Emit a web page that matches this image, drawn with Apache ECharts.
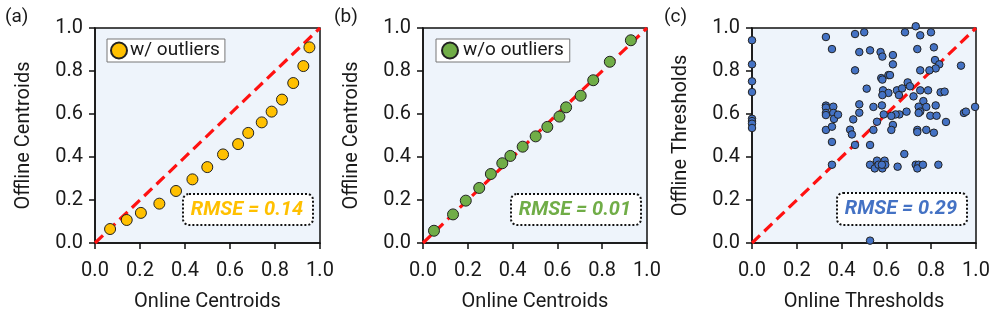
<!DOCTYPE html>
<html>
<head>
<meta charset="utf-8">
<script src="https://cdn.jsdelivr.net/npm/echarts@6/dist/echarts.min.js"></script>
<style>
html,body{margin:0;padding:0;background:#fff;}
#chart{width:995px;height:317px;}
</style>
</head>
<body>
<div id="chart"></div>
<script>
// Panel (a): with outliers
const aOnline  = [0.067,0.141,0.204,0.286,0.360,0.433,0.499,0.569,0.636,0.681,0.741,0.785,0.831,0.881,0.926,0.953];
const aOffline = [0.065,0.107,0.140,0.183,0.242,0.296,0.353,0.412,0.460,0.512,0.561,0.611,0.667,0.744,0.823,0.910];
// Panel (b): without outliers
const bOnline  = [0.049,0.134,0.191,0.251,0.303,0.354,0.390,0.445,0.503,0.555,0.609,0.639,0.704,0.760,0.834,0.928];
const bOffline = [0.057,0.133,0.197,0.256,0.321,0.371,0.405,0.448,0.496,0.540,0.588,0.631,0.685,0.757,0.843,0.943];
// Panel (c): thresholds
const cOnline = [0,0,0,0,0,0,0,0,
  0.330,0.357,0.460,0.501,0.479,0.460,0.527,0.574,0.582,0.629,0.629,0.683,0.731,0.738,0.751,0.799,0.812,0.817,0.836,0.820,0.792,0.751,0.933,
  0.577,0.582,0.609,0.616,0.512,0.585,0.609,0.582,0.580,0.542,0.588,0.647,0.670,0.695,0.705,0.721,0.751,0.786,0.842,0.860,0.656,0.765,0.744,0.751,0.744,0.778,0.820,0.796,0.824,0.866,0.812,0.778,0.738,0.738,
  0.690,0.658,0.641,0.622,0.629,0.622,0.558,0.542,0.527,0.479,0.479,0.452,0.438,0.446,0.460,0.946,0.955,0.996,0.680,
  0.330,0.330,0.330,0.330,0.330,0.363,0.363,0.366,0.357,0.384,0.357,0.357,
  0.527,0.548,0.558,0.565,0.582,0.592,0.595,0.580,0.650,0.731,0.744,0.738,0.763,0.832,0.527];
const cOffline = [0.943,0.831,0.752,0.702,0.578,0.567,0.555,0.535,
  0.958,0.902,0.972,0.980,0.888,0.803,0.896,0.888,0.867,0.874,0.831,0.980,1.008,0.902,0.966,0.980,0.910,0.851,0.831,0.812,0.803,0.803,0.825,
  0.767,0.760,0.781,0.781,0.718,0.710,0.698,0.688,0.640,0.633,0.598,0.710,0.719,0.747,0.729,0.682,0.710,0.710,0.701,0.704,0.688,0.660,0.634,0.611,0.605,0.633,0.640,0.592,0.592,0.563,0.513,0.526,0.526,0.516,
  0.611,0.598,0.598,0.591,0.549,0.526,0.564,0.526,0.456,0.606,0.645,0.575,0.527,0.505,0.456,0.605,0.611,0.633,0.414,
  0.639,0.630,0.605,0.595,0.526,0.634,0.605,0.577,0.541,0.597,0.470,0.364,
  0.364,0.347,0.383,0.364,0.347,0.383,0.364,0.364,0.355,0.364,0.364,0.347,0.364,0.364,0.011];
const tickLabels = ['0.0','0.2','0.4','0.6','0.8','1.0'];
const panelLabels = ['(a)','(b)','(c)'];
const xTitles = ['Online Centroids','Online Centroids','Online Thresholds'];
const yTitles = ['Offline Centroids','Offline Centroids','Offline Thresholds'];
const seriesNames = ['w/ outliers','w/o outliers','thresholds'];
const rmseTexts = ['RMSE = 0.14','RMSE = 0.01','RMSE = 0.29'];

const colors = ['#FFC000','#70AD47','#4472C4'];
const FONT = 'Roboto';
const grids = [
  {left:95, top:28, width:225, height:215},
  {left:423, top:28, width:224, height:215},
  {left:752, top:28, width:224, height:215}
];
function zip(a,b){return a.map((v,i)=>[v,b[i]]);}
const dataSets = [zip(aOnline,aOffline), zip(bOnline,bOffline), zip(cOnline,cOffline)];

const option = {
  animation:false,
  textStyle:{fontFamily:FONT},
  grid: grids.map(g=>Object.assign({show:true, backgroundColor:'#EEF4FB', borderColor:'#111', borderWidth:1.5, containLabel:false}, g)),
  xAxis: grids.map((g,i)=>({
    gridIndex:i, type:'value', min:0, max:1, interval:0.2,
    name:xTitles[i], nameLocation:'middle', nameGap:49,
    nameTextStyle:{fontFamily:FONT, fontSize:20, color:'#1a1a1a'},
    axisLine:{show:true, lineStyle:{color:'#111', width:1.5}},
    axisTick:{show:true, length:6, lineStyle:{color:'#111', width:1.5}},
    axisLabel:{margin:18, fontFamily:FONT, fontSize:20, color:'#1a1a1a', formatter:(v)=>tickLabels[Math.round(v/0.2)]},
    splitLine:{show:false}
  })),
  yAxis: grids.map((g,i)=>({
    gridIndex:i, type:'value', min:0, max:1, interval:0.2,
    name:yTitles[i], nameLocation:'middle', nameGap:61,
    nameTextStyle:{fontFamily:FONT, fontSize:20, color:'#1a1a1a'},
    axisLine:{show:true, lineStyle:{color:'#111', width:1.5}},
    axisTick:{show:true, length:6, lineStyle:{color:'#111', width:1.5}},
    axisLabel:{margin:12, fontFamily:FONT, fontSize:20, color:'#1a1a1a', formatter:(v)=>tickLabels[Math.round(v/0.2)]},
    splitLine:{show:false}
  })),
  legend: [
    {data:[seriesNames[0]], left:107, top:39, padding:[2,5,2,3], itemWidth:16, itemHeight:16, itemGap:4,
     backgroundColor:'#fff', borderColor:'#777', borderWidth:1, icon:'circle',
     textStyle:{fontFamily:FONT, fontSize:19, color:'#1a1a1a', padding:[0,0,0,-2]}},
    {data:[seriesNames[1]], left:436, top:39, padding:[2,6,2,5], itemWidth:16, itemHeight:16, itemGap:4,
     backgroundColor:'#fff', borderColor:'#777', borderWidth:1, icon:'circle',
     textStyle:{fontFamily:FONT, fontSize:19, color:'#1a1a1a'}}
  ],
  series: [],
  graphic: []
};
for (let i=0;i<3;i++){
  option.series.push({
    type:'line', xAxisIndex:i, yAxisIndex:i, data:[[0,0],[1,1]], symbol:'none', silent:true, z:3,
    lineStyle:{color:'#FF1111', width:3.2, type:[11,6]}
  });
  option.series.push({
    name:seriesNames[i], type:'scatter', xAxisIndex:i, yAxisIndex:i, data:dataSets[i],
    symbolSize: i<2 ? 11 : 7.5, clip:false, z:4,
    itemStyle:{color:colors[i], borderColor:'#222', borderWidth:1, opacity:1}
  });
}
const boxes = [
  {x:182, y:193, w:130, h:31},
  {x:510, y:193, w:130, h:31},
  {x:836, y:192, w:130, h:32}
];
boxes.forEach((b,i)=>{
  option.graphic.push({
    type:'rect', left:b.x, top:b.y, z:10,
    shape:{width:b.w, height:b.h, r:6},
    style:{fill:'#fff', stroke:'#111', lineWidth:2, lineDash:[2,2]}
  });
  option.graphic.push({
    type:'text', x:b.x+b.w/2, y:b.y+b.h/2+1, z:11,
    style:{text:rmseTexts[i], fill:colors[i], font:'italic bold 20px '+FONT, textAlign:'center', textVerticalAlign:'middle'}
  });
});
const labelX = [5, 334, 664];
labelX.forEach((x,i)=>{
  option.graphic.push({type:'text', left:x, top:8, style:{text:panelLabels[i], fill:'#1a1a1a', font:'19px '+FONT}});
});
const chart = echarts.init(document.getElementById('chart'), null, {renderer:'canvas'});
chart.setOption(option);
</script>
</body>
</html>
